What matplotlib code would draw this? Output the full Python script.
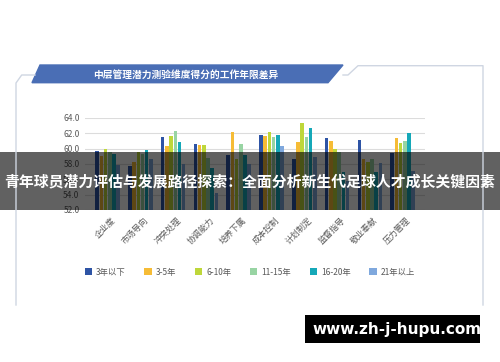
import numpy as np
import matplotlib.pyplot as plt
from matplotlib.patches import Polygon, Rectangle

plt.rcParams['font.family'] = ['Noto Sans CJK SC', 'DejaVu Sans']

categories = ['企业度', '市场导向', '冲突处理', '协调能力', '培养下属',
              '成本控制', '计划制定', '监督指导', '敬业奉献', '压力管理']
series = ['3年以下', '3-5年', '6-10年', '11-15年', '16-20年', '21年以上']
values = [
    [59.7, 57.8, 61.5, 60.6, 59.2, 61.8, 58.6, 61.4, 61.1, 59.4],
    [59.0, 58.3, 60.3, 60.5, 62.2, 61.6, 60.9, 61.0, 58.7, 61.4],
    [60.0, 59.6, 61.7, 60.5, 58.6, 62.2, 63.4, 60.0, 58.3, 60.8],
    [59.5, 59.3, 62.3, 58.8, 60.6, 61.5, 61.5, 59.5, 58.7, 61.0],
    [59.3, 59.8, 60.9, 57.5, 59.2, 61.8, 62.7, 57.0, 56.9, 62.0],
    [57.9, 58.6, 58.0, 54.2, 58.0, 60.3, 58.9, 55.8, 58.1, 57.1],
]
colors = ['#2e54a5', '#f6bc36', '#bed73a', '#98d4a3', '#15a8b8', '#7fa8dd']
yticks = [52, 54, 56, 58, 60, 62, 64]

W, H = 500, 362
fig = plt.figure(figsize=(W / 100, H / 100), dpi=100)
fig.patch.set_facecolor('white')

# main chart axes (pixel box 85..425 x 118..210)
ax = fig.add_axes([85 / W, 1 - 210 / H, 340 / W, 92 / H])
x = np.arange(len(categories))
bw = 0.128
for i, (name, vals) in enumerate(zip(series, values)):
    ax.bar(x + (i - 2.5) * bw, np.array(vals) - 52, bw * 0.85, bottom=52,
           color=colors[i], label=name, zorder=3)
ax.set_xlim(-0.69, 9.68)
ax.set_ylim(52, 64)
ax.set_yticks(yticks)
ax.set_yticklabels([f'{v:.1f}' for v in yticks], fontsize=6, color='#595959')
ax.set_xticks(x + 0.1)
ax.set_xticklabels(categories, rotation=45, ha='right', rotation_mode='anchor',
                   fontsize=6, color='#595959')
ax.tick_params(length=0, pad=4)
ax.grid(axis='y', color='#dcdcdc', lw=0.8, zorder=0)
for s in ax.spines.values():
    s.set_visible(False)

fig.legend(loc='center', bbox_to_anchor=(250 / W, 1 - 272 / H), ncol=6,
           frameon=False, fontsize=6, handlelength=0.9, handleheight=0.9,
           columnspacing=2.2, handletextpad=0.5, labelcolor='#595959')

# overlay in pixel coordinates
ov = fig.add_axes([0, 0, 1, 1], zorder=10)
ov.set_xlim(0, W)
ov.set_ylim(H, 0)
ov.axis('off')
ov.patch.set_alpha(0)

fc = '#cfd6e2'
ov.plot([16, 16, 21.7, 35], [305, 83, 75, 75], color=fc, lw=1)
ov.plot([343, 348, 358, 483, 483], [75, 75, 65.7, 65.7, 305], color=fc, lw=1)
ov.add_patch(Polygon([[40, 65], [343, 65], [328, 82.7], [32, 82.7]],
                     closed=True, color='#4a6eb5'))
ov.text(186, 74.5, '中层管理潜力测验维度得分的工作年限差异', color='white',
        fontsize=7, fontweight='bold', ha='center', va='center')

ov.add_patch(Rectangle((0, 152), W, 58, color='black', alpha=0.62, lw=0))
ov.text(250, 181, '青年球员潜力评估与发展路径探索：全面分析新生代足球人才成长关键因素',
        color='white', fontsize=10.7, fontweight='bold', ha='center', va='center')

ov.add_patch(Rectangle((305, 315), 175, 28, color='black', lw=0))
ov.text(397, 329.5, 'www.zh-j-hupu.com', color='white', fontsize=11,
        fontweight='bold', ha='center', va='center', family='DejaVu Sans')

fig.savefig('out.png', dpi=100)
